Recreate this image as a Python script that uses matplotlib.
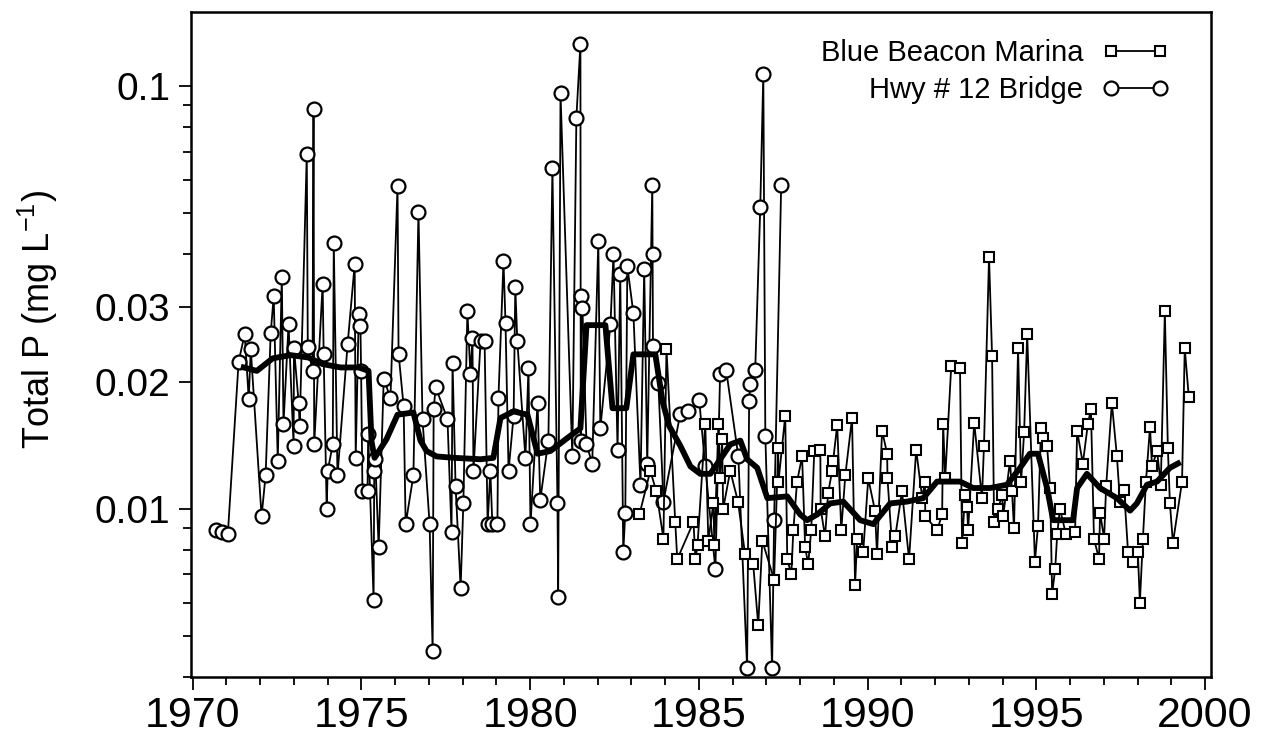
import matplotlib
matplotlib.use("Agg")
import matplotlib.pyplot as plt
from matplotlib.lines import Line2D
from matplotlib.ticker import FixedLocator, FixedFormatter, NullFormatter

# Hwy # 12 Bridge: sampling date (decimal year) and total P (mg/L)
bridge_year = [
    1970.68, 1970.86, 1971.04, 1971.36, 1971.54, 1971.66, 1971.72, 1972.04, 1972.16, 1972.31,
    1972.40, 1972.52, 1972.64, 1972.69, 1972.84, 1972.99, 1973.00, 1973.14, 1973.17, 1973.38,
    1973.41, 1973.55, 1973.58, 1973.60, 1973.85, 1973.88, 1973.97, 1974.00, 1974.15, 1974.18,
    1974.29, 1974.59, 1974.80, 1974.83, 1974.92, 1974.97, 1974.99, 1975.03, 1975.18, 1975.20,
    1975.36, 1975.38, 1975.41, 1975.51, 1975.66, 1975.86, 1976.07, 1976.10, 1976.25, 1976.31,
    1976.54, 1976.69, 1976.81, 1977.02, 1977.11, 1977.14, 1977.20, 1977.55, 1977.67, 1977.70,
    1977.79, 1977.94, 1978.02, 1978.14, 1978.23, 1978.29, 1978.32, 1978.53, 1978.65, 1978.74,
    1978.82, 1978.88, 1979.03, 1979.06, 1979.21, 1979.27, 1979.36, 1979.51, 1979.56, 1979.62,
    1979.86, 1979.95, 1980.01, 1980.22, 1980.30, 1980.54, 1980.66, 1980.81, 1980.83, 1980.90,
    1981.25, 1981.37, 1981.49, 1981.50, 1981.52, 1981.55, 1981.67, 1981.84, 1982.02, 1982.08,
    1982.38, 1982.47, 1982.59, 1982.67, 1982.76, 1982.82, 1982.88, 1983.06, 1983.27, 1983.38,
    1983.47, 1983.62, 1983.63, 1983.64, 1983.80, 1983.95, 1984.45, 1984.69, 1985.01, 1985.19,
    1985.49, 1985.63, 1985.81, 1986.17, 1986.43, 1986.49, 1986.52, 1986.67, 1986.82, 1986.91,
    1986.97, 1987.17, 1987.23, 1987.44,
]
bridge_tp = [
    0.0089, 0.0088, 0.0087, 0.0223, 0.0259, 0.0182, 0.0239, 0.0096, 0.0120, 0.0260,
    0.0318, 0.0130, 0.0353, 0.0159, 0.0273, 0.0141, 0.0240, 0.0178, 0.0157, 0.0690,
    0.0242, 0.0212, 0.0881, 0.0142, 0.0340, 0.0233, 0.0100, 0.0123, 0.0142, 0.0425,
    0.0120, 0.0245, 0.0379, 0.0132, 0.0289, 0.0270, 0.0212, 0.0110, 0.0110, 0.0150,
    0.0061, 0.0123, 0.0131, 0.0081, 0.0203, 0.0183, 0.0582, 0.0233, 0.0175, 0.0092,
    0.0120, 0.0505, 0.0163, 0.0092, 0.0046, 0.0172, 0.0194, 0.0163, 0.0088, 0.0221,
    0.0113, 0.0065, 0.0103, 0.0293, 0.0208, 0.0253, 0.0123, 0.0249, 0.0249, 0.0092,
    0.0123, 0.0092, 0.0092, 0.0183, 0.0385, 0.0275, 0.0123, 0.0166, 0.0334, 0.0249,
    0.0132, 0.0215, 0.0092, 0.0178, 0.0105, 0.0145, 0.0639, 0.0103, 0.0062, 0.0961,
    0.0133, 0.0843, 0.1260, 0.0145, 0.0318, 0.0298, 0.0142, 0.0128, 0.0430, 0.0155,
    0.0273, 0.0400, 0.0138, 0.0359, 0.0079, 0.0098, 0.0375, 0.0290, 0.0114, 0.0369,
    0.0128, 0.0585, 0.0400, 0.0243, 0.0198, 0.0104, 0.0168, 0.0170, 0.0181, 0.0126,
    0.0072, 0.0209, 0.0213, 0.0133, 0.0042, 0.0180, 0.0197, 0.0213, 0.0517, 0.1070,
    0.0149, 0.0042, 0.0094, 0.0585,
]

# Blue Beacon Marina: sampling date (decimal year) and total P (mg/L)
marina_year = [
    1983.24, 1983.56, 1983.74, 1983.95, 1984.04, 1984.30, 1984.36, 1984.84, 1984.90, 1984.96,
    1985.19, 1985.28, 1985.43, 1985.46, 1985.58, 1985.63, 1985.69, 1985.72, 1985.93, 1986.16,
    1986.37, 1986.61, 1986.76, 1986.88, 1987.23, 1987.35, 1987.36, 1987.56, 1987.62, 1987.74,
    1987.80, 1987.91, 1988.06, 1988.15, 1988.24, 1988.33, 1988.42, 1988.60, 1988.61, 1988.74,
    1988.83, 1988.95, 1988.98, 1989.10, 1989.22, 1989.34, 1989.54, 1989.63, 1989.69, 1989.87,
    1990.02, 1990.22, 1990.28, 1990.43, 1990.58, 1990.59, 1990.73, 1990.82, 1991.02, 1991.23,
    1991.44, 1991.62, 1991.70, 1991.71, 1992.06, 1992.21, 1992.24, 1992.30, 1992.48, 1992.74,
    1992.80, 1992.89, 1992.95, 1992.98, 1993.16, 1993.39, 1993.45, 1993.60, 1993.69, 1993.75,
    1993.87, 1993.99, 1994.02, 1994.22, 1994.28, 1994.34, 1994.46, 1994.55, 1994.64, 1994.73,
    1994.96, 1995.05, 1995.14, 1995.20, 1995.32, 1995.41, 1995.47, 1995.56, 1995.62, 1995.70,
    1995.88, 1996.15, 1996.21, 1996.38, 1996.53, 1996.62, 1996.71, 1996.86, 1996.89, 1997.01,
    1997.07, 1997.24, 1997.39, 1997.48, 1997.60, 1997.72, 1997.87, 1998.01, 1998.07, 1998.16,
    1998.25, 1998.37, 1998.43, 1998.58, 1998.69, 1998.81, 1998.90, 1998.96, 1999.05, 1999.32,
    1999.40, 1999.52,
]
marina_tp = [
    0.0097, 0.0123, 0.0110, 0.0085, 0.0239, 0.0093, 0.0076, 0.0093, 0.0076, 0.0082,
    0.0159, 0.0084, 0.0103, 0.0082, 0.0159, 0.0118, 0.0146, 0.0100, 0.0123, 0.0104,
    0.0078, 0.0074, 0.0053, 0.0084, 0.0068, 0.0139, 0.0116, 0.0166, 0.0076, 0.0070,
    0.0089, 0.0116, 0.0133, 0.0081, 0.0074, 0.0089, 0.0137, 0.0138, 0.0100, 0.0086,
    0.0109, 0.0123, 0.0130, 0.0158, 0.0089, 0.0120, 0.0164, 0.0066, 0.0085, 0.0079,
    0.0118, 0.0099, 0.0078, 0.0153, 0.0135, 0.0118, 0.0081, 0.0086, 0.0110, 0.0076,
    0.0138, 0.0106, 0.0116, 0.0096, 0.0089, 0.0097, 0.0159, 0.0118, 0.0218, 0.0215,
    0.0083, 0.0108, 0.0101, 0.0089, 0.0160, 0.0106, 0.0141, 0.0394, 0.0230, 0.0093,
    0.0100, 0.0108, 0.0096, 0.0130, 0.0110, 0.0090, 0.0240, 0.0116, 0.0152, 0.0259,
    0.0075, 0.0091, 0.0155, 0.0147, 0.0141, 0.0112, 0.0063, 0.0072, 0.0087, 0.0100,
    0.0087, 0.0088, 0.0153, 0.0128, 0.0159, 0.0172, 0.0085, 0.0076, 0.0098, 0.0085,
    0.0113, 0.0178, 0.0133, 0.0104, 0.0111, 0.0079, 0.0075, 0.0079, 0.0060, 0.0085,
    0.0116, 0.0156, 0.0126, 0.0137, 0.0114, 0.0293, 0.0139, 0.0103, 0.0083, 0.0116,
    0.0240, 0.0184,
]

# Smoothed trend through both stations
trend_year = [
    1971.51, 1971.90, 1972.37, 1972.90, 1973.43, 1973.85, 1974.38, 1974.92, 1975.21, 1975.30,
    1975.39, 1975.74, 1976.07, 1976.54, 1976.75, 1976.93, 1977.23, 1977.76, 1978.53, 1978.91,
    1979.12, 1979.51, 1979.92, 1980.22, 1980.60, 1981.10, 1981.49, 1981.67, 1982.23, 1982.44,
    1982.85, 1983.06, 1983.71, 1983.92, 1984.12, 1984.45, 1984.75, 1985.04, 1985.34, 1985.69,
    1985.93, 1986.23, 1986.43, 1986.73, 1987.03, 1987.62, 1988.00, 1988.21, 1988.51, 1988.89,
    1989.28, 1989.78, 1990.17, 1990.67, 1991.17, 1991.65, 1992.06, 1992.74, 1993.13, 1993.63,
    1994.13, 1994.52, 1994.81, 1995.05, 1995.32, 1995.50, 1996.09, 1996.21, 1996.50, 1996.89,
    1997.39, 1997.78, 1997.98, 1998.28, 1998.58, 1998.96, 1999.20,
]
trend_tp = [
    0.0216, 0.0212, 0.0227, 0.0231, 0.0228, 0.0220, 0.0216, 0.0216, 0.0212, 0.0144,
    0.0132, 0.0146, 0.0167, 0.0169, 0.0145, 0.0137, 0.0133, 0.0132, 0.0131, 0.0132,
    0.0164, 0.0170, 0.0167, 0.0135, 0.0137, 0.0147, 0.0155, 0.0272, 0.0272, 0.0173,
    0.0173, 0.0232, 0.0232, 0.0180, 0.0157, 0.0141, 0.0126, 0.0121, 0.0121, 0.0133,
    0.0142, 0.0145, 0.0131, 0.0125, 0.0106, 0.0107, 0.0097, 0.0094, 0.0097, 0.0103,
    0.0104, 0.0094, 0.0092, 0.0103, 0.0104, 0.0106, 0.0116, 0.0116, 0.0112, 0.0112,
    0.0114, 0.0125, 0.0135, 0.0135, 0.0112, 0.0094, 0.0094, 0.0112, 0.0121, 0.0112,
    0.0106, 0.0099, 0.0103, 0.0114, 0.0116, 0.0125, 0.0128,
]

x_major = [1970, 1975, 1980, 1985, 1990, 1995, 2000]
y_major = [0.01, 0.02, 0.03, 0.1]
y_major_labels = ["0.01", "0.02", "0.03", "0.1"]
y_minor = [0.004, 0.005, 0.006, 0.007, 0.008, 0.009,
           0.04, 0.05, 0.06, 0.07, 0.08, 0.09]

plt.rcParams["font.family"] = ["Liberation Sans", "DejaVu Sans"]
plt.rcParams["mathtext.fontset"] = "custom"
plt.rcParams["mathtext.rm"] = "Liberation Sans"
plt.rcParams["mathtext.it"] = "Liberation Sans:italic"

fig = plt.figure(figsize=(12.61, 7.47), dpi=100)
ax = fig.add_axes([0.1515, 0.0937, 0.8089, 0.8906])

ax.plot(bridge_year, bridge_tp, "-", color="black", lw=1.3,
        marker="o", ms=10, mfc="white", mec="black", mew=1.6, zorder=2)
ax.plot(marina_year, marina_tp, "-", color="black", lw=1.3,
        marker="s", ms=6.5, mfc="white", mec="black", mew=1.5, zorder=3)
ax.plot(trend_year, trend_tp, "-", color="black", lw=4.2,
        solid_joinstyle="round", zorder=4)

ax.set_yscale("log")
ax.set_xlim(1969.95, 2000.18)
ax.set_ylim(0.004, 0.15)

ax.xaxis.set_major_locator(FixedLocator(x_major))
ax.xaxis.set_minor_locator(FixedLocator(list(range(1970, 2001))))
ax.yaxis.set_major_locator(FixedLocator(y_major))
ax.yaxis.set_major_formatter(FixedFormatter(y_major_labels))
ax.yaxis.set_minor_locator(FixedLocator(y_minor))
ax.yaxis.set_minor_formatter(NullFormatter())

ax.tick_params(which="both", direction="out", top=False, right=False,
               width=1.3, color="black")
ax.tick_params(which="major", length=9)
ax.tick_params(which="minor", length=6)
ax.tick_params(axis="x", which="major", labelsize=31, pad=5)
ax.tick_params(axis="y", which="major", labelsize=28, pad=6)

for s in ax.spines.values():
    s.set_linewidth(1.8)

fig.text(38 / 1261, 1 - 320 / 747, "Total P (mg L$^{\\mathregular{-1}}$)",
         rotation=90, ha="center", va="center", fontsize=26)

handles = [
    Line2D([], [], color="black", lw=1.3, marker="s", ms=6.5,
           mfc="white", mec="black", mew=1.5),
    Line2D([], [], color="black", lw=1.3, marker="o", ms=10,
           mfc="white", mec="black", mew=1.6),
]
ax.legend(handles, ["Blue Beacon Marina", "Hwy # 12 Bridge"],
          loc="upper right", bbox_to_anchor=(0.959, 0.959),
          frameon=False, markerfirst=False, numpoints=2,
          handlelength=2.3, handletextpad=0.65, labelspacing=0.32,
          borderpad=0, borderaxespad=0, fontsize=21)

fig.savefig("out.png", dpi=100)
